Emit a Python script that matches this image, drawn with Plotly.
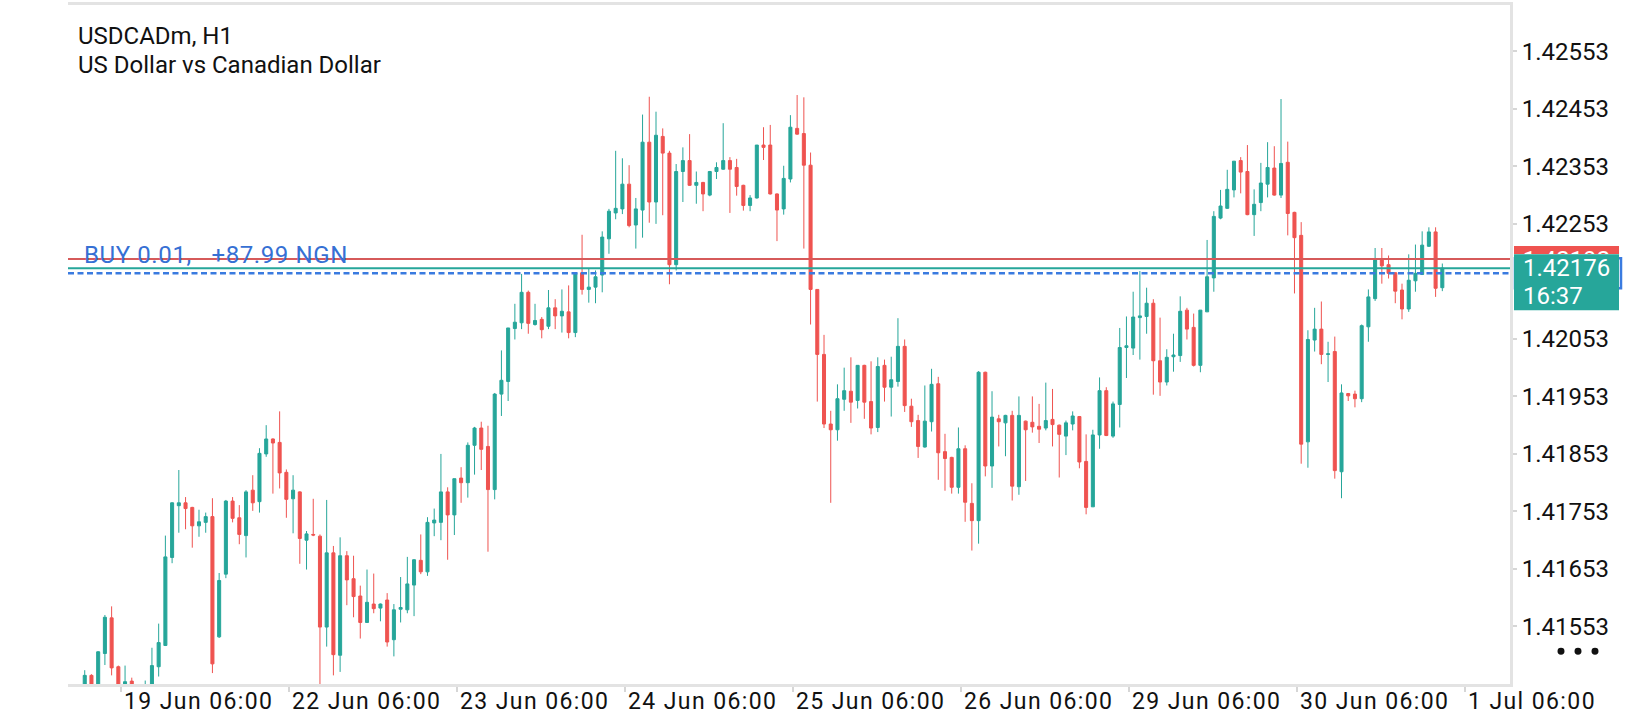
import plotly.graph_objects as go

# USDCADm H1 bars, oldest first
opens = [
    1.41450, 1.41468, 1.41450, 1.41506, 1.41568, 1.41483, 1.41445, 1.41458, 1.41440, 1.41430,
    1.41448, 1.41483, 1.41520, 1.41673, 1.41763, 1.41768, 1.41760, 1.41728, 1.41734, 1.41744,
    1.41535, 1.41644, 1.41771, 1.41742, 1.41711, 1.41790, 1.41770, 1.41853, 1.41879, 1.41873,
    1.41821, 1.41775, 1.41787, 1.41703, 1.41713, 1.41710, 1.41552, 1.41681, 1.41503, 1.41676,
    1.41636, 1.41606, 1.41560, 1.41592, 1.41585, 1.41599, 1.41530, 1.41583, 1.41582, 1.41625,
    1.41668, 1.41648, 1.41733, 1.41734, 1.41787, 1.41747, 1.41811, 1.41803, 1.41868, 1.41898,
    1.41866, 1.41791, 1.41957, 1.41979, 1.42071, 1.42081, 1.42134, 1.42078, 1.42087, 1.42075,
    1.42107, 1.42093, 1.42100, 1.42064, 1.42168, 1.42139, 1.42143, 1.42164, 1.42227, 1.42272,
    1.42279, 1.42322, 1.42251, 1.42277, 1.42395, 1.42291, 1.42405, 1.42376, 1.42182, 1.42344,
    1.42363, 1.42320, 1.42325, 1.42303, 1.42344, 1.42348, 1.42363, 1.42351, 1.42320, 1.42285,
    1.42298, 1.42390, 1.42390, 1.42305, 1.42279, 1.42331, 1.42419, 1.42410, 1.42355, 1.42139,
    1.42026, 1.41905, 1.41895, 1.41948, 1.41962, 1.41946, 1.42007, 1.41944, 1.41899, 1.42007,
    1.41969, 1.41979, 1.42040, 1.41936, 1.41911, 1.41865, 1.41909, 1.41975, 1.41857, 1.41847,
    1.41795, 1.41862, 1.41767, 1.41737, 1.41995, 1.41832, 1.41914, 1.41907, 1.41920, 1.41796,
    1.41910, 1.41908, 1.41901, 1.41898, 1.41913, 1.41903, 1.41884, 1.41905, 1.41918, 1.41840,
    1.41761, 1.41886, 1.41963, 1.41884, 1.41939, 1.42038, 1.42037, 1.42090, 1.42092, 1.42115,
    1.42015, 1.41978, 1.42022, 1.42024, 1.42103, 1.42073, 1.42007, 1.42100, 1.42159, 1.42263,
    1.42280, 1.42312, 1.42363, 1.42344, 1.42269, 1.42290, 1.42322, 1.42350, 1.42303, 1.42360,
    1.42273, 1.42233, 1.41874, 1.42051, 1.42070, 1.42026, 1.42031, 1.41822, 1.41958, 1.41957,
    1.41949, 1.42074, 1.42123, 1.42190, 1.42182, 1.42168, 1.42138, 1.42105, 1.42154, 1.42165,
    1.42214, 1.42239, 1.42142,
]
highs = [
    1.41477, 1.41470, 1.41510, 1.41573, 1.41588, 1.41485, 1.41485, 1.41464, 1.41448, 1.41459,
    1.41516, 1.41558, 1.41711, 1.41769, 1.41825, 1.41778, 1.41761, 1.41756, 1.41751, 1.41776,
    1.41646, 1.41773, 1.41778, 1.41764, 1.41790, 1.41816, 1.41863, 1.41903, 1.41880, 1.41927,
    1.41826, 1.41816, 1.41788, 1.41719, 1.41775, 1.41713, 1.41773, 1.41693, 1.41708, 1.41684,
    1.41676, 1.41624, 1.41652, 1.41645, 1.41593, 1.41611, 1.41592, 1.41639, 1.41674, 1.41670,
    1.41713, 1.41743, 1.41758, 1.41853, 1.41795, 1.41810, 1.41830, 1.41873, 1.41900, 1.41909,
    1.41902, 1.41959, 1.42033, 1.42072, 1.42114, 1.42166, 1.42137, 1.42114, 1.42091, 1.42138,
    1.42122, 1.42139, 1.42146, 1.42168, 1.42234, 1.42175, 1.42172, 1.42240, 1.42279, 1.42380,
    1.42367, 1.42355, 1.42298, 1.42443, 1.42474, 1.42448, 1.42419, 1.42380, 1.42357, 1.42386,
    1.42409, 1.42344, 1.42326, 1.42345, 1.42360, 1.42428, 1.42369, 1.42366, 1.42321, 1.42303,
    1.42390, 1.42421, 1.42425, 1.42306, 1.42354, 1.42442, 1.42477, 1.42473, 1.42377, 1.42139,
    1.42060, 1.41928, 1.41974, 1.42003, 1.42021, 1.42007, 1.42008, 1.42014, 1.42021, 1.42017,
    1.42022, 1.42089, 1.42052, 1.41949, 1.41921, 1.41972, 1.42001, 1.41987, 1.41888, 1.41848,
    1.41899, 1.41868, 1.41802, 1.41997, 1.41996, 1.41962, 1.41921, 1.41921, 1.41928, 1.41953,
    1.41911, 1.41953, 1.41940, 1.41977, 1.41966, 1.41904, 1.41911, 1.41927, 1.41919, 1.41887,
    1.41895, 1.41986, 1.41969, 1.41944, 1.42072, 1.42092, 1.42135, 1.42171, 1.42142, 1.42122,
    1.42090, 1.42035, 1.42062, 1.42127, 1.42107, 1.42097, 1.42103, 1.42225, 1.42275, 1.42312,
    1.42347, 1.42362, 1.42369, 1.42390, 1.42313, 1.42359, 1.42395, 1.42388, 1.42470, 1.42396,
    1.42274, 1.42256, 1.42068, 1.42107, 1.42118, 1.42048, 1.42057, 1.41974, 1.41959, 1.41963,
    1.42078, 1.42139, 1.42211, 1.42211, 1.42198, 1.42169, 1.42149, 1.42200, 1.42217, 1.42240,
    1.42247, 1.42247, 1.42184,
]
lows = [
    1.41440, 1.41440, 1.41445, 1.41486, 1.41468, 1.41435, 1.41440, 1.41430, 1.41420, 1.41425,
    1.41440, 1.41466, 1.41519, 1.41663, 1.41716, 1.41722, 1.41690, 1.41709, 1.41716, 1.41472,
    1.41533, 1.41637, 1.41734, 1.41696, 1.41673, 1.41754, 1.41751, 1.41848, 1.41784, 1.41793,
    1.41742, 1.41715, 1.41662, 1.41652, 1.41710, 1.41450, 1.41518, 1.41468, 1.41474, 1.41590,
    1.41569, 1.41532, 1.41559, 1.41576, 1.41562, 1.41518, 1.41501, 1.41560, 1.41576, 1.41571,
    1.41644, 1.41641, 1.41710, 1.41703, 1.41669, 1.41712, 1.41768, 1.41777, 1.41817, 1.41825,
    1.41683, 1.41774, 1.41919, 1.41945, 1.42052, 1.42070, 1.42062, 1.42076, 1.42054, 1.42070,
    1.42070, 1.42064, 1.42054, 1.42056, 1.42130, 1.42116, 1.42115, 1.42134, 1.42201, 1.42261,
    1.42270, 1.42247, 1.42210, 1.42229, 1.42255, 1.42253, 1.42268, 1.42148, 1.42172, 1.42291,
    1.42319, 1.42288, 1.42275, 1.42301, 1.42331, 1.42347, 1.42272, 1.42302, 1.42276, 1.42275,
    1.42297, 1.42364, 1.42304, 1.42223, 1.42269, 1.42325, 1.42408, 1.42210, 1.42078, 1.41944,
    1.41898, 1.41768, 1.41876, 1.41928, 1.41907, 1.41932, 1.41914, 1.41887, 1.41891, 1.41944,
    1.41918, 1.41970, 1.41926, 1.41900, 1.41846, 1.41864, 1.41892, 1.41808, 1.41789, 1.41784,
    1.41784, 1.41735, 1.41685, 1.41697, 1.41814, 1.41794, 1.41866, 1.41849, 1.41772, 1.41782,
    1.41806, 1.41890, 1.41872, 1.41894, 1.41866, 1.41812, 1.41851, 1.41894, 1.41828, 1.41748,
    1.41761, 1.41862, 1.41884, 1.41881, 1.41899, 1.41985, 1.42025, 1.42017, 1.42062, 1.41956,
    1.41954, 1.41972, 1.41996, 1.42013, 1.42052, 1.42005, 1.41995, 1.42100, 1.42135, 1.42261,
    1.42279, 1.42299, 1.42306, 1.42268, 1.42232, 1.42275, 1.42299, 1.42302, 1.42298, 1.42233,
    1.42132, 1.41836, 1.41829, 1.42031, 1.42009, 1.41978, 1.41810, 1.41776, 1.41945, 1.41934,
    1.41943, 1.42048, 1.42119, 1.42149, 1.42158, 1.42115, 1.42087, 1.42100, 1.42135, 1.42164,
    1.42213, 1.42126, 1.42136,
]
closes = [
    1.41468, 1.41450, 1.41509, 1.41569, 1.41481, 1.41445, 1.41457, 1.41440, 1.41430, 1.41448,
    1.41485, 1.41525, 1.41674, 1.41768, 1.41768, 1.41758, 1.41728, 1.41735, 1.41744, 1.41488,
    1.41633, 1.41771, 1.41741, 1.41713, 1.41787, 1.41768, 1.41854, 1.41879, 1.41872, 1.41820,
    1.41774, 1.41790, 1.41706, 1.41714, 1.41712, 1.41552, 1.41681, 1.41504, 1.41676, 1.41634,
    1.41605, 1.41560, 1.41595, 1.41584, 1.41592, 1.41526, 1.41582, 1.41586, 1.41627, 1.41669,
    1.41648, 1.41734, 1.41738, 1.41787, 1.41747, 1.41810, 1.41803, 1.41868, 1.41898, 1.41861,
    1.41791, 1.41957, 1.41981, 1.42072, 1.42082, 1.42134, 1.42080, 1.42085, 1.42069, 1.42107,
    1.42093, 1.42101, 1.42064, 1.42168, 1.42139, 1.42143, 1.42161, 1.42230, 1.42275, 1.42280,
    1.42322, 1.42250, 1.42279, 1.42395, 1.42291, 1.42407, 1.42376, 1.42182, 1.42344, 1.42363,
    1.42320, 1.42325, 1.42305, 1.42344, 1.42351, 1.42363, 1.42348, 1.42318, 1.42285, 1.42298,
    1.42390, 1.42386, 1.42305, 1.42277, 1.42332, 1.42421, 1.42409, 1.42355, 1.42139, 1.42026,
    1.41905, 1.41895, 1.41949, 1.41963, 1.41943, 1.42007, 1.41943, 1.41898, 1.42005, 1.41969,
    1.41982, 1.42040, 1.41937, 1.41909, 1.41866, 1.41910, 1.41974, 1.41855, 1.41845, 1.41795,
    1.41862, 1.41769, 1.41737, 1.41995, 1.41832, 1.41917, 1.41909, 1.41920, 1.41797, 1.41920,
    1.41895, 1.41900, 1.41896, 1.41911, 1.41904, 1.41887, 1.41907, 1.41919, 1.41839, 1.41760,
    1.41886, 1.41963, 1.41885, 1.41940, 1.42038, 1.42041, 1.42091, 1.42093, 1.42115, 1.42015,
    1.41978, 1.42021, 1.42025, 1.42101, 1.42070, 1.42007, 1.42103, 1.42161, 1.42266, 1.42284,
    1.42313, 1.42362, 1.42343, 1.42269, 1.42287, 1.42324, 1.42351, 1.42303, 1.42358, 1.42271,
    1.42229, 1.41870, 1.42052, 1.42070, 1.42026, 1.42027, 1.41824, 1.41959, 1.41954, 1.41949,
    1.42076, 1.42126, 1.42190, 1.42180, 1.42167, 1.42136, 1.42105, 1.42155, 1.42167, 1.42216,
    1.42239, 1.42141, 1.42176,
]

# bars that carry a time label, and the labels
label_bars = [6, 31, 56, 81, 106, 131, 156, 181, 206]
label_text = ["19 Jun 06:00", "22 Jun 06:00", "23 Jun 06:00", "24 Jun 06:00", "25 Jun 06:00",
              "26 Jun 06:00", "29 Jun 06:00", "30 Jun 06:00", "1 Jul 06:00"]

# price scale labels (1.42153 sits under the price tags, so it is not shown)
price_ticks = [1.41553, 1.41653, 1.41753, 1.41853, 1.41953, 1.42053,
               1.42253, 1.42353, 1.42453, 1.42553]

symbol = "USDCADm, H1"
description = "US Dollar vs Canadian Dollar"
bid = 1.42176
ask = 1.42192
entry = 1.42167
position_text = "BUY 0.01,\u00a0\u00a0\u00a0+87.99 NGN"
countdown = "16:37"

W, H = 1640, 720
L, R, T, B = 68, 130, 2, 36
PW, PH = W - L - R, H - T - B

UP = "#26a69a"
DOWN = "#ef5350"
BLUE = "#3a7be0"
FRAME = "#e3e3e3"
FONT = "Roboto"


def px(x):
    return (x - L) / PW


def py(y):
    return (H - B - y) / PH


bars = list(range(len(opens)))

fig = go.Figure(go.Candlestick(
    x=bars, open=opens, high=highs, low=lows, close=closes,
    increasing=dict(line=dict(color=UP, width=1), fillcolor=UP),
    decreasing=dict(line=dict(color=DOWN, width=1), fillcolor=DOWN),
    hoverinfo="skip", showlegend=False,
))

shapes = [
    dict(type="line", xref="paper", yref="y", x0=0, x1=1, y0=ask, y1=ask,
         line=dict(color="#d65a5a", width=2)),
    dict(type="line", xref="paper", yref="y", x0=0, x1=1, y0=bid, y1=bid,
         line=dict(color=UP, width=2)),
    dict(type="line", xref="paper", yref="y", x0=0, x1=1, y0=entry, y1=entry,
         line=dict(color=BLUE, width=2.5, dash="6px,3.5px")),
    # price tags on the right
    dict(type="rect", xref="paper", yref="y", ysizemode="pixel", yanchor=entry,
         x0=px(1515), x1=px(1621), y0=-15, y1=15,
         line=dict(color=BLUE, width=2.5), fillcolor="white"),
    dict(type="rect", xref="paper", yref="y", ysizemode="pixel", yanchor=bid,
         x0=px(1514), x1=px(1619), y0=-42, y1=14,
         line=dict(width=0), fillcolor=UP),
]
for cx in (1561, 1578, 1595):
    shapes.append(dict(type="circle", xref="paper", yref="paper",
                       x0=px(cx - 3.5), x1=px(cx + 3.5), y0=py(651 + 3.5), y1=py(651 - 3.5),
                       line=dict(width=0), fillcolor="#111111"))

annotations = [
    dict(text=symbol, xref="paper", yref="paper", x=px(76), y=py(33),
         xanchor="left", yanchor="middle", showarrow=False,
         font=dict(family=FONT, size=24, color="#111111")),
    dict(text=description, xref="paper", yref="paper", x=px(76), y=py(62),
         xanchor="left", yanchor="middle", showarrow=False,
         font=dict(family=FONT, size=24, color="#111111")),
    dict(text=position_text, xref="paper", yref="y", x=px(82), y=entry, yshift=18,
         xanchor="left", yanchor="middle", align="left", showarrow=False,
         font=dict(family=FONT, size=24, color="#3670d4")),
    # ask tag: only its top strip shows above the bid tag, the rest is clipped
    dict(text=f"{ask:.5f}", xref="paper", yref="y", x=px(1514), y=bid, yshift=14,
         xanchor="left", yanchor="bottom", showarrow=False,
         width=105, height=8, align="center", valign="top", borderpad=0, borderwidth=0,
         bgcolor=DOWN, font=dict(family=FONT, size=24, color="white")),
    dict(text=f"{bid:.5f}", xref="paper", yref="y", x=px(1521), y=bid,
         xanchor="left", yanchor="middle", showarrow=False,
         font=dict(family=FONT, size=24, color="white")),
    dict(text=countdown, xref="paper", yref="y", x=px(1521), y=bid, yshift=-28,
         xanchor="left", yanchor="middle", showarrow=False,
         font=dict(family=FONT, size=24, color="white")),
]

tick_pos = [b - 0.6 for b in label_bars]
for pos, txt in zip(tick_pos, label_text):
    annotations.append(dict(text=txt, xref="x", yref="paper", x=pos, y=py(702),
                            xanchor="left", yanchor="middle", align="left",
                            showarrow=False, xshift=1,
                            font=dict(family=FONT, size=23, color="#111111")))

fig.update_layout(
    width=W, height=H,
    margin=dict(l=L, r=R, t=T, b=B, pad=0),
    paper_bgcolor="white", plot_bgcolor="white",
    font=dict(family=FONT, size=24, color="#111111"),
    boxgap=0.55, boxgroupgap=0,
    hovermode=False,
    shapes=shapes,
    annotations=annotations,
    xaxis=dict(
        range=[-2.49, 212.07], showgrid=False, zeroline=False,
        showline=True, mirror=True, linecolor=FRAME, linewidth=3,
        tickmode="array", tickvals=tick_pos, showticklabels=False,
        ticks="outside", ticklen=5, tickwidth=2, tickcolor="#d6d6d6",
        rangeslider=dict(visible=False), fixedrange=True,
    ),
    yaxis=dict(
        side="right", range=[1.41453, 1.426335], showgrid=False, zeroline=False,
        showline=True, linecolor=FRAME, linewidth=3,
        tickmode="array", tickvals=price_ticks, ticktext=[f"{v:.5f}" for v in price_ticks],
        ticks="outside", ticklen=4, tickwidth=2, tickcolor="#d6d6d6",
        tickfont=dict(family=FONT, size=24, color="#111111"), fixedrange=True,
    ),
)

# page without body margin; time labels and the position label use wider tracking
post = """
document.body.style.margin = '0';
document.body.style.overflow = 'hidden';
document.querySelectorAll('.annotation-text').forEach(function (t) {
    var s = t.textContent;
    if (/^\\d+ \\w{3} \\d\\d:\\d\\d$/.test(s)) { t.style.letterSpacing = '1.4px'; }
    else if (s.indexOf('BUY') === 0) { t.style.letterSpacing = '0.6px'; }
});
"""

fig.write_html("out.html", config={"displayModeBar": False}, post_script=post)
